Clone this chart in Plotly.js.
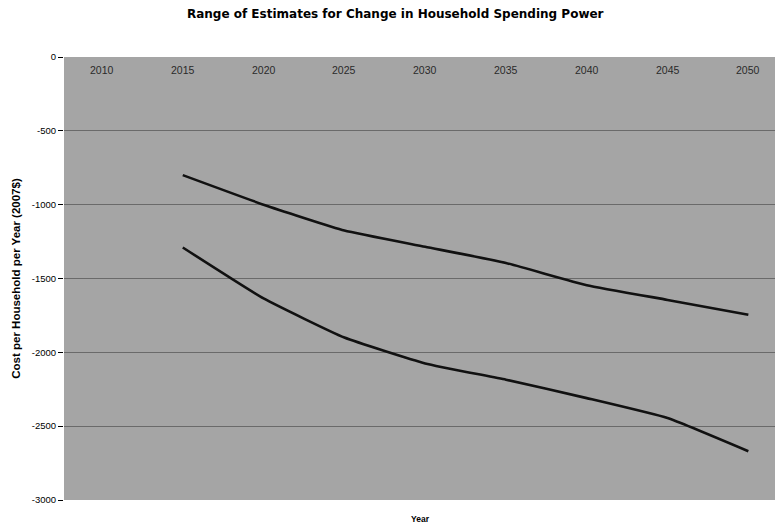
<!DOCTYPE html>
<html>
<head>
<meta charset="utf-8">
<script src="https://cdn.plot.ly/plotly-3.0.1.min.js"></script>
<style>html,body{margin:0;padding:0;background:#fff;}#chart{width:775px;height:531px;}</style>
</head>
<body>
<div id="chart"></div>
<script>
const years = ['2010','2015','2020','2025','2030','2035','2040','2045','2050'];
const lineYears = ['2015','2020','2025','2030','2035','2040','2045','2050'];
const upperEstimate = [-800, -1000, -1175, -1285, -1395, -1545, -1645, -1745];
const lowerEstimate = [-1290, -1635, -1900, -2075, -2185, -2310, -2445, -2670];
const yTicks = [0, -500, -1000, -1500, -2000, -2500, -3000];

const idx = y => years.indexOf(y);
const xs = lineYears.map(idx);

const traces = [
  {x: xs, y: upperEstimate, type: 'scatter', mode: 'lines', name: 'High',
   line: {color: '#111', width: 2.6, shape: 'spline', smoothing: 0.4}, hoverinfo: 'skip'},
  {x: xs, y: lowerEstimate, type: 'scatter', mode: 'lines', name: 'Low',
   line: {color: '#111', width: 2.6, shape: 'spline', smoothing: 0.4}, hoverinfo: 'skip'}
];

const yearLabels = years.map(y => ({
  text: y, x: idx(y), xref: 'x', y: 0, yref: 'y', yshift: -13,
  showarrow: false, xanchor: 'center', yanchor: 'middle',
  font: {family: 'Liberation Sans, Arial, sans-serif', size: 10.5, color: '#2a2a2a'}
}));

const layout = {
  width: 775, height: 531,
  margin: {l: 64, r: 0, t: 57, b: 31},
  paper_bgcolor: '#ffffff',
  plot_bgcolor: '#a5a5a5',
  showlegend: false,
  font: {family: 'Liberation Sans, Arial, sans-serif', color: '#000'},
  title: {text: '<b>Range of Estimates for Change in Household Spending Power</b>',
          font: {family: 'DejaVu Sans, sans-serif', size: 12, color: '#000'},
          x: 0.51, xanchor: 'center', y: 0.974, yanchor: 'middle'},
  xaxis: {
    range: [-0.47, 8.33],
    showticklabels: false, ticks: '', showgrid: false, zeroline: false, showline: false
  },
  yaxis: {
    range: [-3000, 0],
    tickvals: yTicks, ticktext: yTicks.map(String),
    ticks: 'outside', ticklen: 5, tickcolor: '#000', tickwidth: 1,
    tickfont: {size: 9.5, color: '#000'},
    showgrid: true, gridcolor: '#6a6a6a', gridwidth: 1,
    zeroline: false, showline: false,
    title: {text: '<b>Cost per Household per Year (2007$)</b>',
            font: {family: 'Liberation Sans, Arial, sans-serif', size: 11.5, color: '#000'}, standoff: 8}
  },
  annotations: yearLabels.concat([
    {text: '<b>Year</b>', xref: 'paper', yref: 'paper', x: 0.502, y: 0, yshift: -19,
     showarrow: false, font: {family: 'Liberation Sans, Arial, sans-serif', size: 8.5, color: '#000'},
     xanchor: 'center', yanchor: 'middle'}
  ])
};

Plotly.newPlot('chart', traces, layout, {staticPlot: true, displayModeBar: false});
</script>
</body>
</html>
